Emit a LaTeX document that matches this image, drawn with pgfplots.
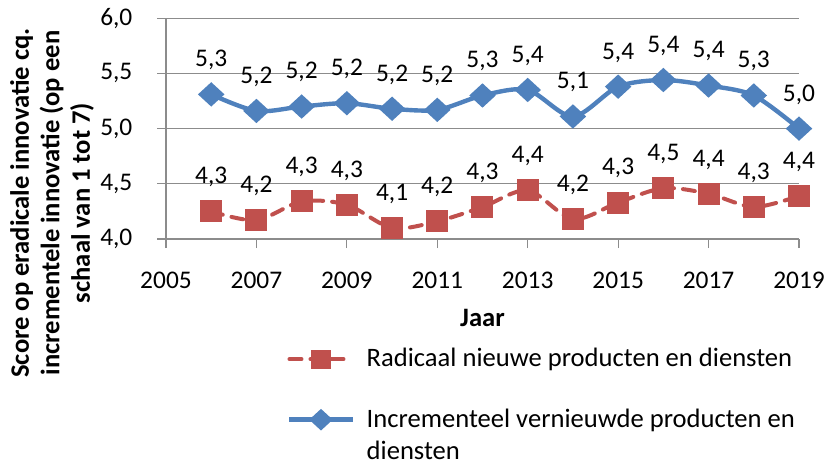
\documentclass[border=0pt]{standalone}
\usepackage{fontspec}
\setmainfont{Carlito}
\usepackage{pgfplots}
\pgfplotsset{compat=1.18}
\definecolor{serblue}{HTML}{4F81BD}
\definecolor{serred}{HTML}{C0504D}
\definecolor{gridgrey}{HTML}{8C8C8C}

\newcommand{\tickfont}{\fontsize{12.7}{15}\selectfont}
\newcommand{\txtfont}{\fontsize{13.3}{16.2}\selectfont}

\begin{document}
\begin{tikzpicture}
\begin{axis}[
  scale only axis, width=316.5pt, height=110.4pt,
  xmin=2005, xmax=2019, ymin=4, ymax=6,
  xtick={2005,2007,...,2019}, ytick={4,4.5,...,6},
  axis x line*=bottom, axis y line*=left,
  axis line style={gridgrey, line width=0.6pt, -},
  tick style={gridgrey, line width=0.6pt},
  tick align=outside, major tick length=4.5pt,
  ymajorgrids, grid style={gridgrey, line width=0.6pt},
  tick label style={font=\tickfont, text=black},
  /pgf/number format/assume math mode=true,
  yticklabel style={xshift=-8.8pt, /pgf/number format/.cd, use comma, fixed, fixed zerofill, precision=1},
  xticklabel style={yshift=-8.6pt, /pgf/number format/1000 sep={}},
  xlabel={Jaar},
  xlabel style={font=\bfseries\txtfont, at={(axis description cs:0.5,-0.358)}, anchor=center},
  ylabel={Score op eradicale innovatie cq.\\incrementele innovatie (op een\\schaal van 1 tot 7)},
  ylabel style={font=\bfseries\fontsize{13.3}{15.3}\selectfont, align=center,
    at={(axis description cs:-0.180,0.163)}, anchor=center},
  legend style={at={(axis description cs:0.191,-0.494)}, anchor=north west, draw=none, fill=none,
    inner sep=0pt, nodes={inner sep=0pt}, font=\txtfont, cells={anchor=west},
    row sep=19.5pt, column sep=6pt},
  legend image code/.code={\draw[mark repeat=2, mark phase=2, every mark/.append style={scale=0.85}, #1]
    plot coordinates {(0pt,0pt) (15.75pt,0pt) (31.5pt,0pt)};},
  clip=false,
]

\addplot[serred, line width=2pt, line cap=round, dash pattern=on 6pt off 4.5pt,
  smooth, tension=0.5,
  mark=square*, mark size=4.5pt, mark options={solid, serred},
  nodes near coords, point meta=explicit symbolic,
  every node near coord/.style={font=\tickfont, text=black, anchor=base, yshift=13.8pt}]
table[meta=l] {
x y l
2006 4.25 4,3
2007 4.17 4,2
2008 4.34 4,3
2009 4.31 4,3
2010 4.10 4,1
2011 4.16 4,2
2012 4.29 4,3
2013 4.44 4,4
2014 4.18 4,2
2015 4.33 4,3
2016 4.46 4,5
2017 4.41 4,4
2018 4.29 4,3
2019 4.39 4,4
};
\addlegendentry{Radicaal nieuwe producten en diensten}

\addplot[serblue, line width=2.2pt, smooth, tension=0.5,
  mark=diamond*, mark size=4.6pt, mark options={solid, serblue, xscale=1.45},
  nodes near coords, point meta=explicit symbolic,
  every node near coord/.style={font=\tickfont, text=black, anchor=base, yshift=13.8pt}]
table[meta=l] {
x y l
2006 5.31 5,3
2007 5.16 5,2
2008 5.20 5,2
2009 5.23 5,2
2010 5.18 5,2
2011 5.17 5,2
2012 5.30 5,3
2013 5.35 5,4
2014 5.11 5,1
2015 5.38 5,4
2016 5.44 5,4
2017 5.39 5,4
2018 5.30 5,3
2019 5.00 5,0
};
\addlegendentry{\rlap{\raisebox{-16.2pt}[0pt][0pt]{diensten}}Incrementeel vernieuwde producten en}

\end{axis}
\pgfresetboundingbox
\useasboundingbox (-83pt,-114.5pt) rectangle (330pt,119.5pt);
\end{tikzpicture}
\end{document}
